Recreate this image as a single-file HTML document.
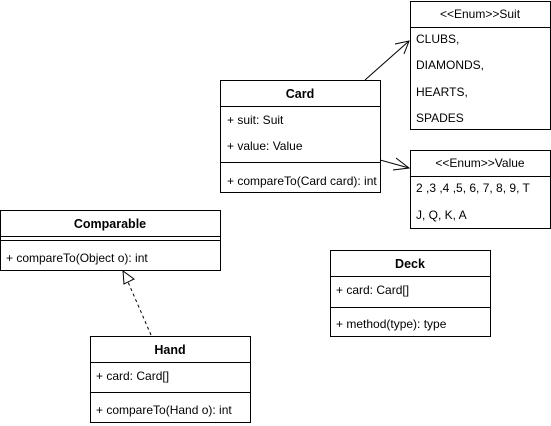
<!DOCTYPE html>
<html><head><meta charset="utf-8"><style>
html,body{margin:0;padding:0;background:#fff;width:551px;height:426px;overflow:hidden}
text{font-family:"Liberation Sans",Helvetica,Arial,sans-serif;font-size:12px;fill:#000}
.b{font-weight:bold;font-size:12.5px}
</style></head><body>
<svg width="551" height="426" viewBox="0 0 551 426" xmlns="http://www.w3.org/2000/svg">
<g fill="#fff" stroke="#000" stroke-width="1">
<rect x="410.5" y="1.5" width="140" height="128"/>
<line x1="410.5" y1="27.5" x2="550.5" y2="27.5"/>
<rect x="410.5" y="150.5" width="140" height="78"/>
<line x1="410.5" y1="176.5" x2="550.5" y2="176.5"/>
<rect x="220.5" y="80.5" width="160" height="112"/>
<line x1="220.5" y1="106.5" x2="380.5" y2="106.5"/>
<line x1="220.5" y1="162.5" x2="380.5" y2="162.5"/>
<rect x="0.5" y="210.5" width="220" height="60"/>
<line x1="0.5" y1="236.5" x2="220.5" y2="236.5"/>
<line x1="0.5" y1="240.5" x2="220.5" y2="240.5"/>
<rect x="330.5" y="250.5" width="160" height="86"/>
<line x1="330.5" y1="276.5" x2="490.5" y2="276.5"/>
<line x1="330.5" y1="307.5" x2="490.5" y2="307.5"/>
<rect x="90.5" y="336.5" width="160" height="86"/>
<line x1="90.5" y1="362.5" x2="250.5" y2="362.5"/>
<line x1="90.5" y1="392.5" x2="250.5" y2="392.5"/>
</g>
<g fill="none" stroke="#000" stroke-width="1">
<line x1="365" y1="80" x2="409" y2="41"/>
<polyline points="395,44 409,41 404,54"/>
<line x1="380" y1="160" x2="409" y2="168"/>
<polyline points="396,158 409,168 393,170"/>
<line x1="151" y1="335" x2="128" y2="282" stroke-dasharray="3,3"/>
<polygon points="123,271 134,279 124,284" fill="#fff"/>
</g>
<text x="480" y="18" text-anchor="middle">&lt;&lt;Enum&gt;&gt;Suit</text>
<text x="416" y="43">CLUBS,</text>
<text x="416" y="69">DIAMONDS,</text>
<text x="416" y="96">HEARTS,</text>
<text x="416" y="122">SPADES</text>
<text x="480" y="167" text-anchor="middle">&lt;&lt;Enum&gt;&gt;Value</text>
<text x="416" y="192">2 ,3 ,4 ,5, 6, 7, 8, 9, T</text>
<text x="416" y="219">J, Q, K, A</text>
<text class="b" x="300" y="98" text-anchor="middle">Card</text>
<text x="227" y="124">+ suit: Suit</text>
<text x="227" y="150">+ value: Value</text>
<text x="227" y="185">+ compareTo(Card card): int</text>
<text class="b" x="110" y="228" text-anchor="middle">Comparable</text>
<text x="6" y="262">+ compareTo(Object o): int</text>
<text class="b" x="410" y="268" text-anchor="middle">Deck</text>
<text x="336" y="294">+ card: Card[]</text>
<text x="336" y="328">+ method(type): type</text>
<text class="b" x="170" y="354" text-anchor="middle">Hand</text>
<text x="96" y="380">+ card: Card[]</text>
<text x="96" y="414">+ compareTo(Hand o): int</text>
</svg>
</body></html>
